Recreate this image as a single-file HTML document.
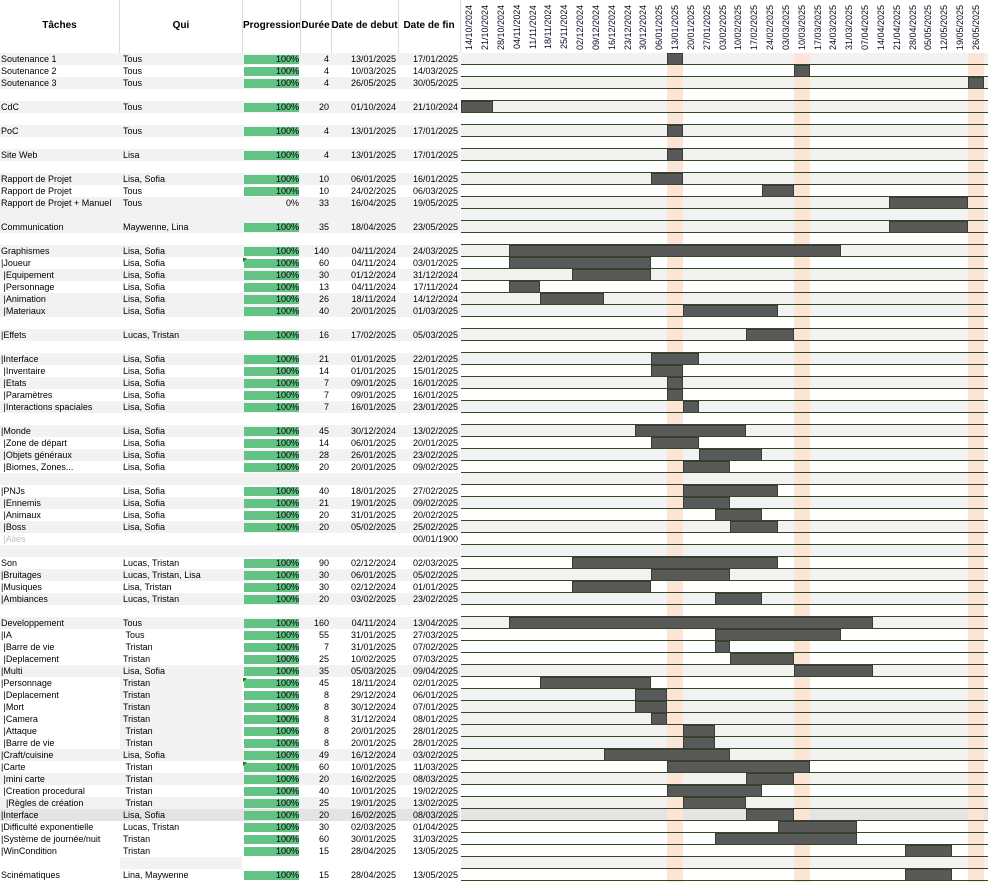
<!DOCTYPE html>
<html><head><meta charset="utf-8"><style>
body{margin:0;width:988px;height:882px;overflow:hidden;background:#fff;font-family:"Liberation Sans",Arial,sans-serif;font-size:9px;color:#000;position:relative}
div{position:absolute;box-sizing:border-box}
.h{font-weight:bold;font-size:10px;top:20px;text-align:center;white-space:nowrap;overflow:hidden}
.vl{top:0;height:53px;width:1px;background:#dcdcdc}
.dl{top:1px;height:52px;width:16px;writing-mode:vertical-rl;transform:rotate(180deg);font-size:9px;line-height:16px;text-align:center;color:#0a0a20}
.t{height:12px;line-height:12px;white-space:nowrap}
.pg{height:9px;top:2px;background:#63c384}
.bar{background:#595959;border:1px solid #3a3a3a}
.ln{height:1px;background:#2f4a1c}
</style></head><body>
<div class="h" style="left:0;width:119px">Tâches</div>
<div class="h" style="left:120px;width:122px">Qui</div>
<div class="h" style="left:243px;width:57px">Progression</div>
<div class="h" style="left:300px;width:31px">Durée</div>
<div class="h" style="left:331px;width:67px">Date de debut</div>
<div class="h" style="left:398px;width:62px">Date de fin</div>
<div class="vl" style="left:119px"></div><div class="vl" style="left:242px"></div><div class="vl" style="left:300px"></div><div class="vl" style="left:331px"></div><div class="vl" style="left:398px"></div><div class="vl" style="left:460px"></div>
<div id="c"></div>
<script>
var W=15.833,X0=461.2;
var dates=["14/10/2024","21/10/2024","28/10/2024","04/11/2024","11/11/2024","18/11/2024","25/11/2024","02/12/2024","09/12/2024","16/12/2024","23/12/2024","30/12/2024","06/01/2025","13/01/2025","20/01/2025","27/01/2025","03/02/2025","10/02/2025","17/02/2025","24/02/2025","03/03/2025","10/03/2025","17/03/2025","24/03/2025","31/03/2025","07/04/2025","14/04/2025","21/04/2025","28/04/2025","05/05/2025","12/05/2025","19/05/2025","26/05/2025"];
var R=[
["Soutenance 1","Tous",100,4,"13/01/2025","17/01/2025",13,14],
["Soutenance 2","Tous",100,4,"10/03/2025","14/03/2025",21,22],
["Soutenance 3","Tous",100,4,"26/05/2025","30/05/2025",32,33],
null,
["CdC","Tous",100,20,"01/10/2024","21/10/2024",0,2],
null,
["PoC","Tous",100,4,"13/01/2025","17/01/2025",13,14],
null,
["Site Web","Lisa",100,4,"13/01/2025","17/01/2025",13,14],
null,
["Rapport de Projet","Lisa, Sofia",100,10,"06/01/2025","16/01/2025",12,14],
["Rapport de Projet","Tous",100,10,"24/02/2025","06/03/2025",19,21],
["Rapport de Projet + Manuel","Tous",0,33,"16/04/2025","19/05/2025",27,32],
null,
["Communication","Maywenne, Lina",100,35,"18/04/2025","23/05/2025",27,32],
null,
["Graphismes","Lisa, Sofia",100,140,"04/11/2024","24/03/2025",3,24],
["|Joueur","Lisa, Sofia",100,60,"04/11/2024","03/01/2025",3,12,1],
[" |Equipement","Lisa, Sofia",100,30,"01/12/2024","31/12/2024",7,12],
[" |Personnage","Lisa, Sofia",100,13,"04/11/2024","17/11/2024",3,5],
[" |Animation","Lisa, Sofia",100,26,"18/11/2024","14/12/2024",5,9],
[" |Materiaux","Lisa, Sofia",100,40,"20/01/2025","01/03/2025",14,20],
null,
["|Effets","Lucas, Tristan",100,16,"17/02/2025","05/03/2025",18,21],
null,
["|Interface","Lisa, Sofia",100,21,"01/01/2025","22/01/2025",12,15],
[" |Inventaire","Lisa, Sofia",100,14,"01/01/2025","15/01/2025",12,14],
[" |Etats","Lisa, Sofia",100,7,"09/01/2025","16/01/2025",13,14],
[" |Paramètres","Lisa, Sofia",100,7,"09/01/2025","16/01/2025",13,14],
[" |Interactions spaciales","Lisa, Sofia",100,7,"16/01/2025","23/01/2025",14,15],
null,
["|Monde","Lisa, Sofia",100,45,"30/12/2024","13/02/2025",11,18],
[" |Zone de départ","Lisa, Sofia",100,14,"06/01/2025","20/01/2025",12,15],
[" |Objets généraux","Lisa, Sofia",100,28,"26/01/2025","23/02/2025",15,19],
[" |Biomes, Zones...","Lisa, Sofia",100,20,"20/01/2025","09/02/2025",14,17],
null,
["|PNJs","Lisa, Sofia",100,40,"18/01/2025","27/02/2025",14,20],
[" |Ennemis","Lisa, Sofia",100,21,"19/01/2025","09/02/2025",14,17],
[" |Animaux","Lisa, Sofia",100,20,"31/01/2025","20/02/2025",16,19],
[" |Boss","Lisa, Sofia",100,20,"05/02/2025","25/02/2025",17,20],
[" |Aliés","",-1,"","","00/01/1900",0,0],
null,
["Son","Lucas, Tristan",100,90,"02/12/2024","02/03/2025",7,20],
["|Bruitages","Lucas, Tristan, Lisa",100,30,"06/01/2025","05/02/2025",12,17],
["|Musiques","Lisa, Tristan",100,30,"02/12/2024","01/01/2025",7,12],
["|Ambiances","Lucas, Tristan",100,20,"03/02/2025","23/02/2025",16,19],
null,
["Developpement","Tous",100,160,"04/11/2024","13/04/2025",3,26],
["|IA"," Tous",100,55,"31/01/2025","27/03/2025",16,24],
[" |Barre de vie"," Tristan",100,7,"31/01/2025","07/02/2025",16,17],
[" |Deplacement","Tristan",100,25,"10/02/2025","07/03/2025",17,21],
["|Multi","Lisa, Sofia",100,35,"05/03/2025","09/04/2025",21,26],
["|Personnage","Tristan",100,45,"18/11/2024","02/01/2025",5,12,1],
[" |Deplacement","Tristan",100,8,"29/12/2024","06/01/2025",11,13],
[" |Mort","Tristan",100,8,"30/12/2024","07/01/2025",11,13],
[" |Camera","Tristan",100,8,"31/12/2024","08/01/2025",12,13],
[" |Attaque"," Tristan",100,8,"20/01/2025","28/01/2025",14,16],
[" |Barre de vie"," Tristan",100,8,"20/01/2025","28/01/2025",14,16],
["|Craft/cuisine","Lisa, Sofia",100,49,"16/12/2024","03/02/2025",9,17],
["|Carte"," Tristan",100,60,"10/01/2025","11/03/2025",13,22,1],
[" |mini carte"," Tristan",100,20,"16/02/2025","08/03/2025",18,21],
[" |Creation procedural"," Tristan",100,40,"10/01/2025","19/02/2025",13,19],
["  |Règles de création"," Tristan",100,25,"19/01/2025","13/02/2025",14,18],
["|Interface","Lisa, Sofia",100,20,"16/02/2025","08/03/2025",18,21],
["|Difficulté exponentielle","Lucas, Tristan",100,30,"02/03/2025","01/04/2025",20,25],
["|Système de journée/nuit","Tristan",100,60,"30/01/2025","31/03/2025",16,25],
["|WinCondition","Tristan",100,15,"28/04/2025","13/05/2025",28,31],
null,
["Scinématiques","Lina, Maywenne",100,15,"28/04/2025","13/05/2025",28,31]
];
var G="gwgwgwgwgwgwgggw"+"gwgwggwgwg"+"wgwgwgwgwgwgwg"+"wgwgwgwgwww"+"gw"+"gggggg"+"wgwgdwwwgw";
var h="";
for(var i=0;i<dates.length;i++){h+='<div class="dl" style="left:'+(X0+i*W)+'px">'+dates[i]+'</div>';}
for(var i=0;i<69;i++){
 var y=53+12*i,s=G[i],bg=s=="g"?"#f2f2f2":(s=="d"?"#e4e4e4":"#fff");
 var lbg=bg; if((i>=53&&i<=57)||i==67)lbg="#fff";
 h+='<div style="left:0;top:'+y+'px;width:460px;height:12px;background:'+lbg+'"></div>';
 if((i>=52&&i<=57)||i==67)h+='<div style="left:120px;top:'+y+'px;width:122px;height:12px;background:#f2f2f2"></div>';
 h+='<div style="left:461px;top:'+y+'px;width:527px;height:12px;background:'+bg+'"></div>';
}
[13,21,32].forEach(function(c){h+='<div style="left:'+(X0+c*W)+'px;top:53px;width:'+W+'px;height:829px;background:#fce4d6"></div>';});
for(var i=0;i<69;i++){
 var y=53+12*i,r=R[i];
 if(r){
  var gray=r[2]<0;
  h+='<div class="t" style="left:1px;top:'+y+'px;'+(gray?'color:#bdbdbd':'')+'">'+r[0].replace(/ /g,'&nbsp;')+'</div>';
  h+='<div class="t" style="left:123px;top:'+y+'px">'+r[1].replace(/ /g,'&nbsp;')+'</div>';
  if(r[2]>=0){
   if(r[2]>0)h+='<div class="pg" style="left:244px;top:'+(y+2)+'px;width:55px"></div>';
   h+='<div class="t" style="left:244px;top:'+y+'px;width:55px;text-align:right">'+r[2]+'%</div>';
   if(r[8])h+='<div style="left:243px;top:'+(y+1)+'px;width:0;height:0;border-top:4px solid #1a7a1a;border-right:4px solid transparent"></div>';
  }
  h+='<div class="t" style="left:300px;top:'+y+'px;width:29px;text-align:right">'+r[3]+'</div>';
  h+='<div class="t" style="left:331px;top:'+y+'px;width:65px;text-align:right">'+r[4]+'</div>';
  h+='<div class="t" style="left:398px;top:'+y+'px;width:60px;text-align:right">'+r[5]+'</div>';
  if(r[7]>r[6])h+='<div class="bar" style="left:'+(X0+r[6]*W)+'px;top:'+y+'px;width:'+((r[7]-r[6])*W)+'px;height:12px"></div>';
 }
 h+='<div class="ln" style="left:461px;top:'+(y+11)+'px;width:527px"></div>';
}
document.getElementById("c").innerHTML=h;
</script>
</body></html>
